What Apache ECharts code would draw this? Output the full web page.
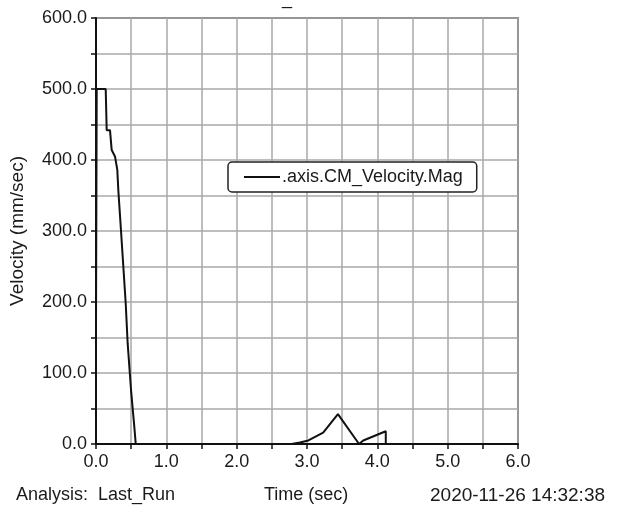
<!DOCTYPE html>
<html><head><meta charset="utf-8">
<script src="https://cdn.jsdelivr.net/npm/echarts@6/dist/echarts.min.js"></script>
<style>html,body{margin:0;padding:0;background:#fff}#c{width:618px;height:507px}</style>
</head><body><div id="c"></div>
<script>
var seriesName = '.axis.CM_Velocity.Mag';
var timeSec = [0, 0, 0.01, 0.138, 0.152, 0.199, 0.223, 0.27, 0.303, 0.317, 0.355, 0.422, 0.45, 0.498, 0.545, 0.565,
  2.78, 2.9, 3.02, 3.23, 3.44, 3.74, 3.80, 4.12, 4.12];
var velocity = [0, 165, 500, 500, 442, 442, 414, 405, 386, 358, 301, 199, 142, 76, 24, 0,
  0, 2, 5, 16, 42, 0, 5, 18, 0];
var xTicks = [0, 1, 2, 3, 4, 5, 6];
var yTicks = [0, 100, 200, 300, 400, 500, 600];
var footerLeft = 'Analysis:  Last_Run';
var footerMid = 'Time (sec)';
var footerRight = '2020-11-26 14:32:38';
var yName = 'Velocity (mm/sec)';

var pts = timeSec.map(function(t, i){ return [t, velocity[i]]; });
var FONT = 'Liberation Sans, Arial, sans-serif';
var chart = echarts.init(document.getElementById('c'), null, {renderer:'canvas'});
chart.setOption({
  animation: false,
  backgroundColor: '#fff',
  grid: {left: 96, right: 100, top: 18, bottom: 63, containLabel: false, outerBoundsMode: 'none',
    show: true, borderColor: '#333', borderWidth: 1.5, backgroundColor: 'transparent'},
  legend: {
    data: [seriesName], left: 228, top: 162, width: 210,
    backgroundColor: '#fff', borderColor: '#222', borderWidth: 1.5, borderRadius: 4,
    padding: [6, 14, 6, 16], icon: 'rect', itemWidth: 36, itemHeight: 2, itemGap: 0,
    textStyle: {fontFamily: FONT, fontSize: 18, color: '#1a1a1a', padding: [0, 0, 0, -3]}
  },
  xAxis: {
    type: 'value', min: xTicks[0], max: xTicks[xTicks.length-1], interval: 0.5,
    axisLine: {show: true, onZero: false, lineStyle: {color: '#111', width: 2}},
    axisTick: {show: true, length: 5, lineStyle: {color: '#111', width: 1.5}},
    splitLine: {show: true, lineStyle: {color: '#a8a8a8', width: 1.5}},
    axisLabel: {fontFamily: FONT, fontSize: 18, color: '#1a1a1a', margin: 9,
      formatter: function(v){ return xTicks.some(function(t){return Math.abs(t-v)<1e-9;}) ? v.toFixed(1) : ''; }}
  },
  yAxis: {
    type: 'value', min: yTicks[0], max: yTicks[yTicks.length-1], interval: 50,
    name: yName, nameLocation: 'middle', nameGap: 69, nameRotate: 90,
    nameTextStyle: {fontFamily: FONT, fontSize: 19, color: '#1a1a1a'},
    axisLine: {show: true, onZero: false, lineStyle: {color: '#111', width: 2}},
    axisTick: {show: true, length: 5, lineStyle: {color: '#111', width: 1.5}},
    splitLine: {show: true, lineStyle: {color: '#a8a8a8', width: 1.5}},
    axisLabel: {fontFamily: FONT, fontSize: 18, color: '#1a1a1a', margin: 9,
      formatter: function(v){ return yTicks.indexOf(v) >= 0 ? v.toFixed(1) : ''; }}
  },
  series: [{
    name: seriesName, type: 'line', data: pts, showSymbol: false, symbol: 'none',
    lineStyle: {color: '#111', width: 2}, itemStyle: {color: '#111'}
  }],
  graphic: [
    {type: 'text', left: 16, top: 486, style: {text: footerLeft, font: '18px ' + FONT, fill: '#1a1a1a'}},
    {type: 'text', left: 264, top: 486, style: {text: footerMid, font: '18px ' + FONT, fill: '#1a1a1a'}},
    {type: 'text', left: 430, top: 486, style: {text: footerRight, font: '19px ' + FONT, fill: '#1a1a1a'}},
    {type: 'text', left: 282, top: -10, style: {text: '_', font: '18px ' + FONT, fill: '#1a1a1a'}}
  ]
});
</script></body></html>
